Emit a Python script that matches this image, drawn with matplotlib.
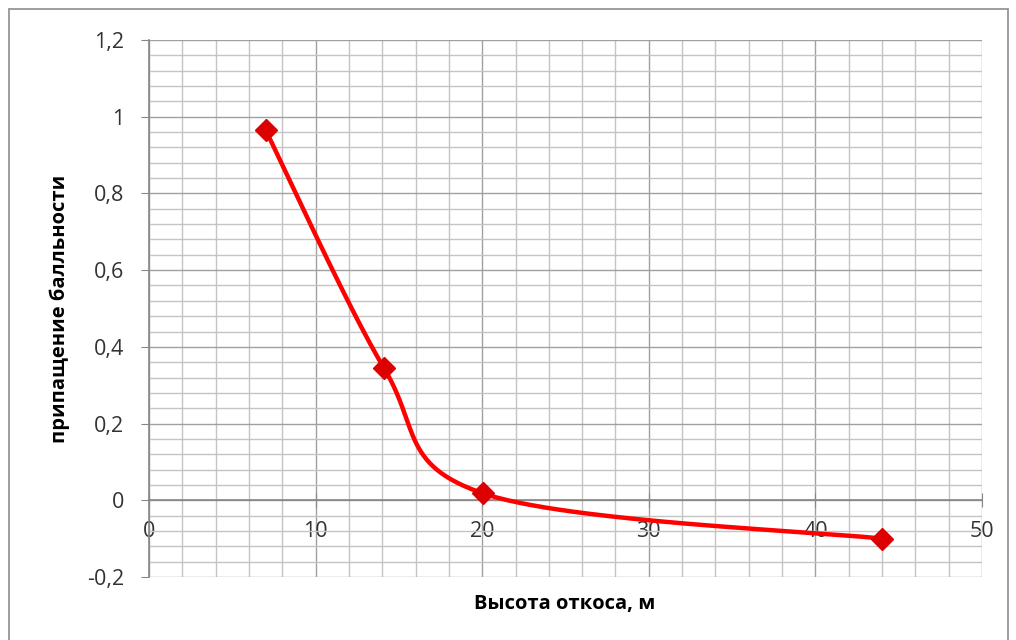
import numpy as np
import matplotlib.pyplot as plt
from matplotlib.patches import Rectangle
from matplotlib.ticker import MultipleLocator, FuncFormatter

# данные
height = [7.0, 14.1, 20.05, 44.0]
increment = [0.965, 0.345, 0.018, -0.10]

x_ticks = [0, 10, 20, 30, 40, 50]
y_ticks = [-0.2, 0, 0.2, 0.4, 0.6, 0.8, 1.0, 1.2]


def excel_smooth(xs, ys, n=60):
    # сглаживание как в Excel: кубические Безье, касательные по соседним точкам
    p = np.column_stack([xs, ys])
    out = [p[:1]]
    for i in range(len(p) - 1):
        p0 = p[i - 1] if i > 0 else p[i]
        p3 = p[i + 2] if i + 2 < len(p) else p[i + 1]
        c1 = p[i] + (p[i + 1] - p0) / 6
        c2 = p[i + 1] - (p3 - p[i]) / 6
        t = np.linspace(0, 1, n)[1:, None]
        seg = ((1 - t) ** 3 * p[i] + 3 * (1 - t) ** 2 * t * c1
               + 3 * (1 - t) * t ** 2 * c2 + t ** 3 * p[i + 1])
        out.append(seg)
    pts = np.vstack(out)
    return pts[:, 0], pts[:, 1]


plt.rcParams['font.family'] = ['Open Sans', 'DejaVu Sans']

fig = plt.figure(figsize=(10.16, 6.4), dpi=100)
fig.patches.append(Rectangle((9 / 1016, -0.1), 999 / 1016, 1 - 9 / 640 + 0.1,
                             transform=fig.transFigure, fill=False,
                             edgecolor='#8c8c8c', linewidth=1.2))

ax = fig.add_axes([149 / 1016, 1 - 577 / 640, 833 / 1016, 537 / 640])
ax.set_xlim(0, 50)
ax.set_ylim(-0.2, 1.2)

ax.xaxis.set_major_locator(MultipleLocator(10))
ax.xaxis.set_minor_locator(MultipleLocator(2))
ax.yaxis.set_major_locator(MultipleLocator(0.2))
ax.yaxis.set_minor_locator(MultipleLocator(0.04))
ax.set_xticks(x_ticks)
ax.set_yticks(y_ticks)

ax.grid(which='major', color='#a0a0a0', linewidth=1.0)
ax.grid(which='minor', color='#c4c4c4', linewidth=1.0)
ax.set_axisbelow(True)

for s in ['top', 'right']:
    ax.spines[s].set_visible(False)
ax.spines['bottom'].set_position(('data', 0))
ax.spines['bottom'].set_color('#868686')
ax.spines['left'].set_color('#868686')
ax.spines['bottom'].set_linewidth(1.2)
ax.spines['left'].set_linewidth(1.2)

fmt = FuncFormatter(lambda v, _: ('%g' % round(v, 2)).replace('.', ','))
ax.yaxis.set_major_formatter(fmt)
ax.xaxis.set_major_formatter(fmt)

ax.tick_params(axis='y', which='major', length=6, color='#868686',
               labelsize=15.5, labelcolor='#333333', pad=12)
ax.tick_params(axis='x', which='major', direction='inout', length=10,
               color='#868686', labelsize=15.5, labelcolor='#333333', pad=10)
ax.tick_params(which='minor', length=0)

sx, sy = excel_smooth(height, increment)
ax.plot(sx, sy, color='#ff0000', linewidth=3.2, solid_capstyle='round', zorder=3)
ax.plot(height, increment, linestyle='none', marker='D', markersize=11,
        color='#dd0000', zorder=4)

ax.set_ylabel('припащение балльности', fontsize=14.5, fontweight='bold', labelpad=12)
fig.text(565 / 1016, 1 - 604 / 640, 'Высота откоса, м', fontsize=14.5,
         fontweight='bold', ha='center', va='center')

fig.savefig('out.png', dpi=100)
